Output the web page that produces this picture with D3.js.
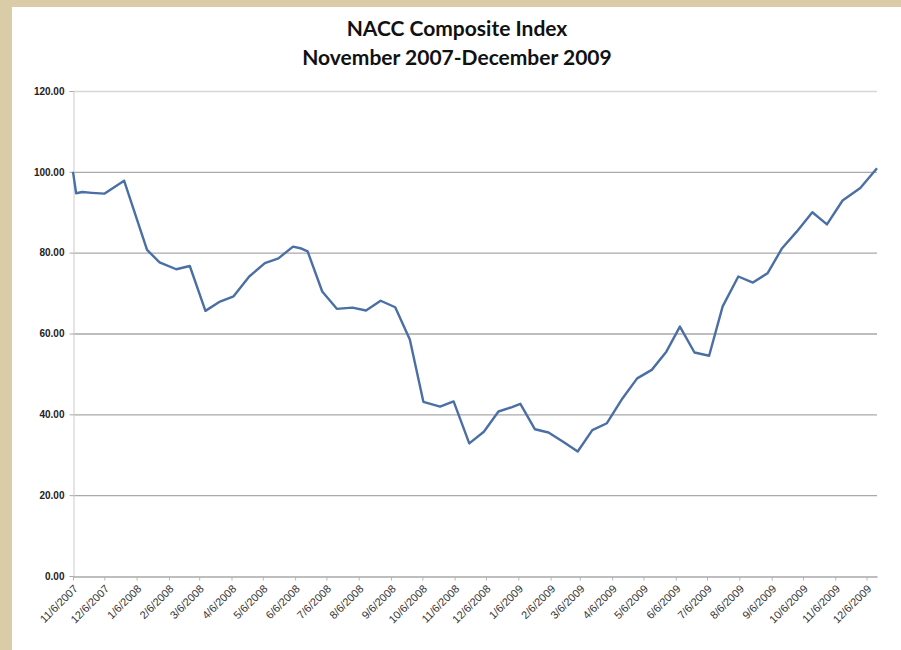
<!DOCTYPE html>
<html>
<head>
<meta charset="utf-8">
<script src="https://cdn.jsdelivr.net/npm/d3@7"></script>
<style>
  html, body { margin: 0; padding: 0; background: #d9cca7; }
  svg { display: block; }
</style>
</head>
<body>
<svg id="chart" width="901" height="650"></svg>
<script>
const titleLines = ["NACC Composite Index", "November 2007-December 2009"];

const dates = [
  "2007-11-06","2007-11-09","2007-11-15","2007-11-24","2007-12-06","2007-12-25",
  "2008-01-16","2008-01-28","2008-02-13","2008-02-26","2008-03-12","2008-03-26",
  "2008-04-08","2008-04-23","2008-05-08","2008-05-21","2008-06-04","2008-06-11",
  "2008-06-18","2008-07-02","2008-07-16","2008-07-31","2008-08-13","2008-08-27",
  "2008-09-10","2008-09-24","2008-10-07","2008-10-23","2008-11-05","2008-11-20",
  "2008-12-04","2008-12-18","2008-12-31","2009-01-08","2009-01-22","2009-02-04",
  "2009-02-18","2009-03-04","2009-03-18","2009-04-01","2009-04-15","2009-04-30",
  "2009-05-14","2009-05-28","2009-06-10","2009-06-24","2009-07-08","2009-07-21",
  "2009-08-05","2009-08-19","2009-09-02","2009-09-16","2009-09-30","2009-10-15",
  "2009-10-29","2009-11-13","2009-11-30","2009-12-16"
];

const values = [
  100.0, 94.7, 95.0, 94.8, 94.6, 97.8,
  80.7, 77.6, 75.9, 76.7, 65.6, 67.9,
  69.2, 74.1, 77.4, 78.6, 81.5, 81.1,
  80.3, 70.4, 66.1, 66.4, 65.7, 68.1,
  66.5, 58.5, 43.1, 41.9, 43.2, 32.8,
  35.7, 40.7, 41.8, 42.6, 36.3, 35.5,
  33.2, 30.8, 36.1, 37.8, 43.6, 48.9,
  51.0, 55.5, 61.7, 55.3, 54.5, 66.7,
  74.1, 72.6, 74.9, 81.1, 85.2, 90.0,
  87.0, 92.9, 96.0, 100.9
];

const xTickLabels = [
  "11/6/2007","12/6/2007","1/6/2008","2/6/2008","3/6/2008","4/6/2008","5/6/2008",
  "6/6/2008","7/6/2008","8/6/2008","9/6/2008","10/6/2008","11/6/2008","12/6/2008",
  "1/6/2009","2/6/2009","3/6/2009","4/6/2009","5/6/2009","6/6/2009","7/6/2009",
  "8/6/2009","9/6/2009","10/6/2009","11/6/2009","12/6/2009"
];

const yTicks = [0, 20, 40, 60, 80, 100, 120];

const parse = d3.timeParse("%Y-%m-%d");
const parseLabel = d3.timeParse("%m/%d/%Y");
const data = dates.map((d, i) => ({ date: parse(d), value: values[i] }));
const tickDates = xTickLabels.map(s => parseLabel(s));

const svg = d3.select("#chart");

// white panel on beige frame
svg.append("rect")
  .attr("x", 12).attr("y", 7)
  .attr("width", 901 - 12).attr("height", 650 - 7)
  .attr("fill", "#ffffff");

const mLeft = 73, mRight = 877, mTop = 91, mBottom = 576;

const x = d3.scaleTime()
  .domain([data[0].date, data[data.length - 1].date])
  .range([mLeft, mRight]);

const y = d3.scaleLinear()
  .domain([0, 120])
  .range([mBottom, mTop]);

// title
svg.append("g").selectAll("text")
  .data(titleLines)
  .join("text")
  .attr("x", 457)
  .attr("y", (d, i) => 36 + i * 29)
  .attr("text-anchor", "middle")
  .attr("font-family", "Lato, 'Open Sans', sans-serif")
  .attr("font-weight", "bold")
  .attr("font-size", "21px")
  .attr("fill", "#111")
  .text(d => d);

// gridlines
svg.append("g")
  .selectAll("line")
  .data(yTicks.filter(v => v > 0))
  .join("line")
  .attr("x1", mLeft).attr("x2", mRight)
  .attr("y1", d => y(d) + 0.5).attr("y2", d => y(d) + 0.5)
  .attr("stroke", d => d === 120 ? "#d6d6d6" : "#a9a9a9")
  .attr("stroke-width", 1.3);

// y axis
const yAxis = d3.axisLeft(y)
  .tickValues(yTicks)
  .tickFormat(d3.format(".2f"))
  .tickSize(4)
  .tickPadding(5);

const gy = svg.append("g")
  .attr("transform", `translate(${mLeft + 0.5},0)`)
  .call(yAxis);
gy.select(".domain").attr("stroke", "#d4d4d4").attr("stroke-width", 1.2);
gy.selectAll(".tick line").attr("stroke", "#a9a9a9");
gy.selectAll(".tick text")
  .attr("font-family", "'Liberation Sans', Arial, sans-serif")
  .attr("font-size", "10px")
  .attr("font-weight", "bold")
  .attr("fill", "#222");

// x axis
const xAxis = d3.axisBottom(x)
  .tickValues(tickDates)
  .tickFormat((d, i) => xTickLabels[i])
  .tickSizeInner(4)
  .tickSizeOuter(0);

const gx = svg.append("g")
  .attr("transform", `translate(0,${mBottom + 0.5})`)
  .call(xAxis);
gx.select(".domain").attr("stroke", "#a9a9a9").attr("stroke-width", 1.3);
gx.selectAll(".tick line").attr("stroke", "#b5b5b5");
gx.selectAll(".tick text")
  .attr("font-family", "'Liberation Sans', Arial, sans-serif")
  .attr("font-size", "11px")
  .attr("fill", "#333")
  .attr("text-anchor", "end")
  .attr("dy", null)
  .attr("y", 0)
  .attr("transform", "translate(5,13) rotate(-45)");

// line
const line = d3.line()
  .x(d => x(d.date))
  .y(d => y(d.value));

svg.append("path")
  .datum(data)
  .attr("d", line)
  .attr("fill", "none")
  .attr("stroke", "#4a6fa5")
  .attr("stroke-width", 2.4)
  .attr("stroke-linejoin", "round");
</script>
</body>
</html>
